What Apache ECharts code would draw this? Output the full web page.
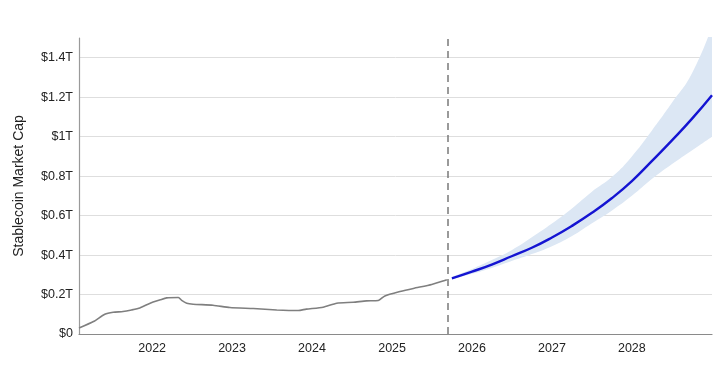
<!DOCTYPE html>
<html><head><meta charset="utf-8">
<script src="https://cdn.jsdelivr.net/npm/echarts@6/dist/echarts.min.js"></script>
<style>html,body{margin:0;padding:0;background:#fff}#c{width:715px;height:375px}</style>
</head><body><div id="c"></div>
<script>
// Historical stablecoin market cap (trillions USD)
const histDates = ['2021-02-01','2021-04-08','2021-05-30','2021-07-07','2021-08-21','2021-09-29','2021-11-06','2021-12-23',
  '2022-02-07','2022-03-08','2022-05-01','2022-05-16','2022-06-08','2022-07-07','2022-10-06','2022-12-22',
  '2023-04-08','2023-07-24','2023-10-30','2023-12-06','2024-02-21','2024-04-23','2024-07-07','2024-09-06',
  '2024-10-30','2024-11-29','2025-02-06','2025-04-08','2025-07-01','2025-08-29','2025-09-08'];
const histValues = [0.030,0.063,0.100,0.110,0.114,0.122,0.132,0.156,
  0.173,0.183,0.185,0.170,0.156,0.151,0.146,0.134,
  0.129,0.122,0.119,0.126,0.136,0.156,0.161,0.168,
  0.170,0.193,0.215,0.231,0.251,0.271,0.275];

// Forecast (trillions USD)
const fcDates = ['2025-10-01','2026-01-01','2026-04-01','2026-07-01','2026-10-01','2027-01-01','2027-04-01',
  '2027-07-01','2027-10-01','2028-01-01','2028-04-01','2028-07-01','2028-10-01','2029-01-01'];
const fcMid  = [0.282,0.316,0.352,0.394,0.437,0.489,0.547,0.613,0.688,0.775,0.876,0.980,1.090,1.210];
const fcLow  = [0.277,0.305,0.335,0.370,0.405,0.445,0.495,0.560,0.625,0.700,0.785,0.860,0.930,1.000];
const fcHigh = [0.290,0.330,0.375,0.425,0.490,0.560,0.635,0.720,0.795,0.900,1.030,1.170,1.320,1.560];

const dividerDate = '2025-09-13';
const xMin = '2021-02-01', xMax = '2029-01-01';
const yTicks = [0,0.2,0.4,0.6,0.8,1,1.2,1.4];
const yMax = 1.5;
const yTitle = 'Stablecoin Market Cap';

const FONT = 'Liberation Sans, Arial, Helvetica, sans-serif';
const chart = echarts.init(document.getElementById('c'), null, {renderer:'canvas'});
const maxTs = new Date(xMax + 'T00:00:00Z').getTime();

chart.setOption({
  animation: false,
  grid: {left: 79, right: 3, top: 38, bottom: 41, containLabel: false},
  xAxis: {
    type: 'time', min: xMin, max: xMax,
    minInterval: 365*24*3600*1000, maxInterval: 366*24*3600*1000,
    axisLine: {show: true, lineStyle: {color: '#8a8a8a', width: 1.2}},
    axisTick: {show: false},
    splitLine: {show: false},
    axisLabel: {
      color: '#222', fontSize: 12.5, fontFamily: FONT, margin: 8,
      hideOverlap: false,
      formatter: function (v) {
        const d = new Date(v);
        if (v >= maxTs - 86400000) return '';
        if (d.getUTCMonth() === 0 && d.getUTCDate() === 1) return String(d.getUTCFullYear());
        if (d.getMonth() === 0 && d.getDate() === 1) return String(d.getFullYear());
        return '';
      }
    }
  },
  yAxis: {
    type: 'value', min: 0, max: yMax, interval: 0.2,
    name: yTitle, nameLocation: 'middle', nameGap: 53,
    nameTextStyle: {color: '#222', fontSize: 14, fontFamily: FONT},
    axisLine: {show: true, lineStyle: {color: '#9a9a9a', width: 1.2}},
    axisTick: {show: false},
    splitLine: {show: true, showMaxLine: false, lineStyle: {color: '#dedede', width: 1}},
    axisLabel: {
      color: '#222', fontSize: 12.5, fontFamily: FONT, margin: 6,
      formatter: function (v) {
        const r = Math.round(v * 10) / 10;
        if (yTicks.indexOf(r) < 0) return '';
        if (r === 0) return '$0';
        return '$' + r + 'T';
      }
    }
  },
  series: [
    {
      type: 'line', name: 'low', stack: 'band', symbol: 'none', silent: true, smooth: true,
      data: fcDates.map((d, i) => [d, fcLow[i]]),
      lineStyle: {opacity: 0}, z: 1
    },
    {
      type: 'line', name: 'band', stack: 'band', symbol: 'none', silent: true, smooth: true,
      data: fcDates.map((d, i) => [d, fcHigh[i] - fcLow[i]]),
      lineStyle: {opacity: 0},
      areaStyle: {color: '#dce7f4', opacity: 1}, z: 1
    },
    {
      type: 'line', name: 'history', symbol: 'none', smooth: 0.2,
      data: histDates.map((d, i) => [d, histValues[i]]),
      lineStyle: {color: '#7f7f7f', width: 1.6}, z: 3,
      markLine: {
        silent: true, symbol: 'none', label: {show: false},
        lineStyle: {type: [7, 5], color: '#7a7a7a', width: 1.5},
        data: [{xAxis: dividerDate}]
      }
    },
    {
      type: 'line', name: 'forecast', symbol: 'none', smooth: true,
      data: fcDates.map((d, i) => [d, fcMid[i]]),
      lineStyle: {color: '#1414d2', width: 2.4}, z: 4
    }
  ]
});
</script>
</body></html>
